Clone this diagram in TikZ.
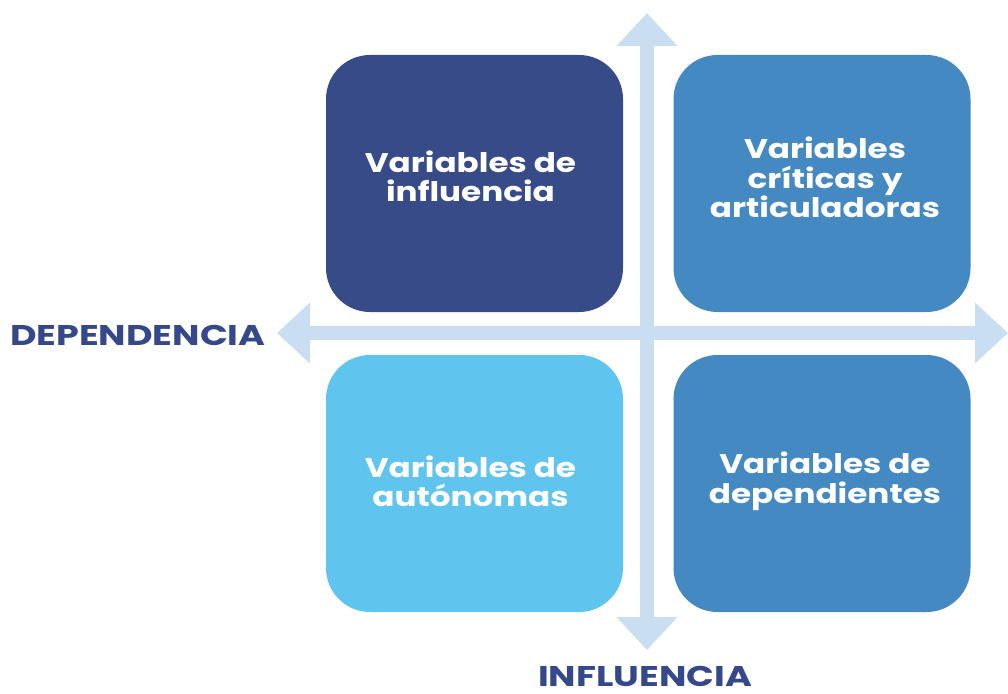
\documentclass[tikz,border=0pt]{standalone}
\usepackage{fontspec}
\setmainfont{Poppins}[BoldFont={* Bold}]
\newfontfamily\widebold{Poppins}[UprightFont={* Bold}, FakeStretch=1.28]
\newfontfamily\boxbold{Poppins}[UprightFont={* Bold}, FakeStretch=1.21]
\usetikzlibrary{arrows.meta}
\definecolor{navy}{HTML}{374B89}
\definecolor{midblue}{HTML}{4589C3}
\definecolor{cyanblue}{HTML}{5FC5EE}
\definecolor{axiscol}{HTML}{C9DFF1}
\definecolor{labelcol}{HTML}{34488A}
\tikzset{
  quad/.style={rounded corners=44pt, minimum width=297pt, minimum height=257pt, inner sep=0pt},
  quadtext/.style={text=white, font=\boxbold\fontsize{27}{29.5}\selectfont, align=center, inner sep=0pt},
  axis/.style={draw=axiscol, line width=14pt, {Triangle[width=59pt,length=33pt]}-{Triangle[width=59pt,length=33pt]}},
  axislabel/.style={text=labelcol, font=\widebold\fontsize{28.5}{30}\selectfont, inner sep=0pt}
}
\begin{document}
\begin{tikzpicture}[x=1pt,y=-1pt]
\useasboundingbox (0,0) rectangle (1008,693);
\coordinate (top) at (647,13);
\coordinate (bot) at (647,650);
\coordinate (left) at (277,333);
\coordinate (right) at (1008,333);
\draw[axis] (left) -- (right);
\draw[axis] (bot) -- (top);
\node[quad, fill=navy] (q1) at (474.5,183.5) {};
\node[quad, fill=midblue] (q2) at (822,183.5) {};
\node[quad, fill=cyanblue] (q3) at (474.5,483.5) {};
\node[quad, fill=midblue] (q4) at (822,483.5) {};
\node[quadtext] (t1) at ([yshift=7pt,xshift=-4pt]q1.center) {Variables de\\influencia};
\node[quadtext] (t2) at ([yshift=6pt,xshift=3pt]q2.center) {Variables\\críticas y\\articuladoras};
\node[quadtext] (t3) at ([yshift=2pt,xshift=-4pt]q3.center) {Variables de\\autónomas};
\node[quadtext] (t4) at ([yshift=2pt,xshift=3pt]q4.center) {Variables de\\dependientes};
\node[axislabel, anchor=base west] (dep) at (10,345) {DEPENDENCIA};
\node[axislabel, anchor=base] (inf) at (645,686) {INFLUENCIA};
\end{tikzpicture}
\end{document}
